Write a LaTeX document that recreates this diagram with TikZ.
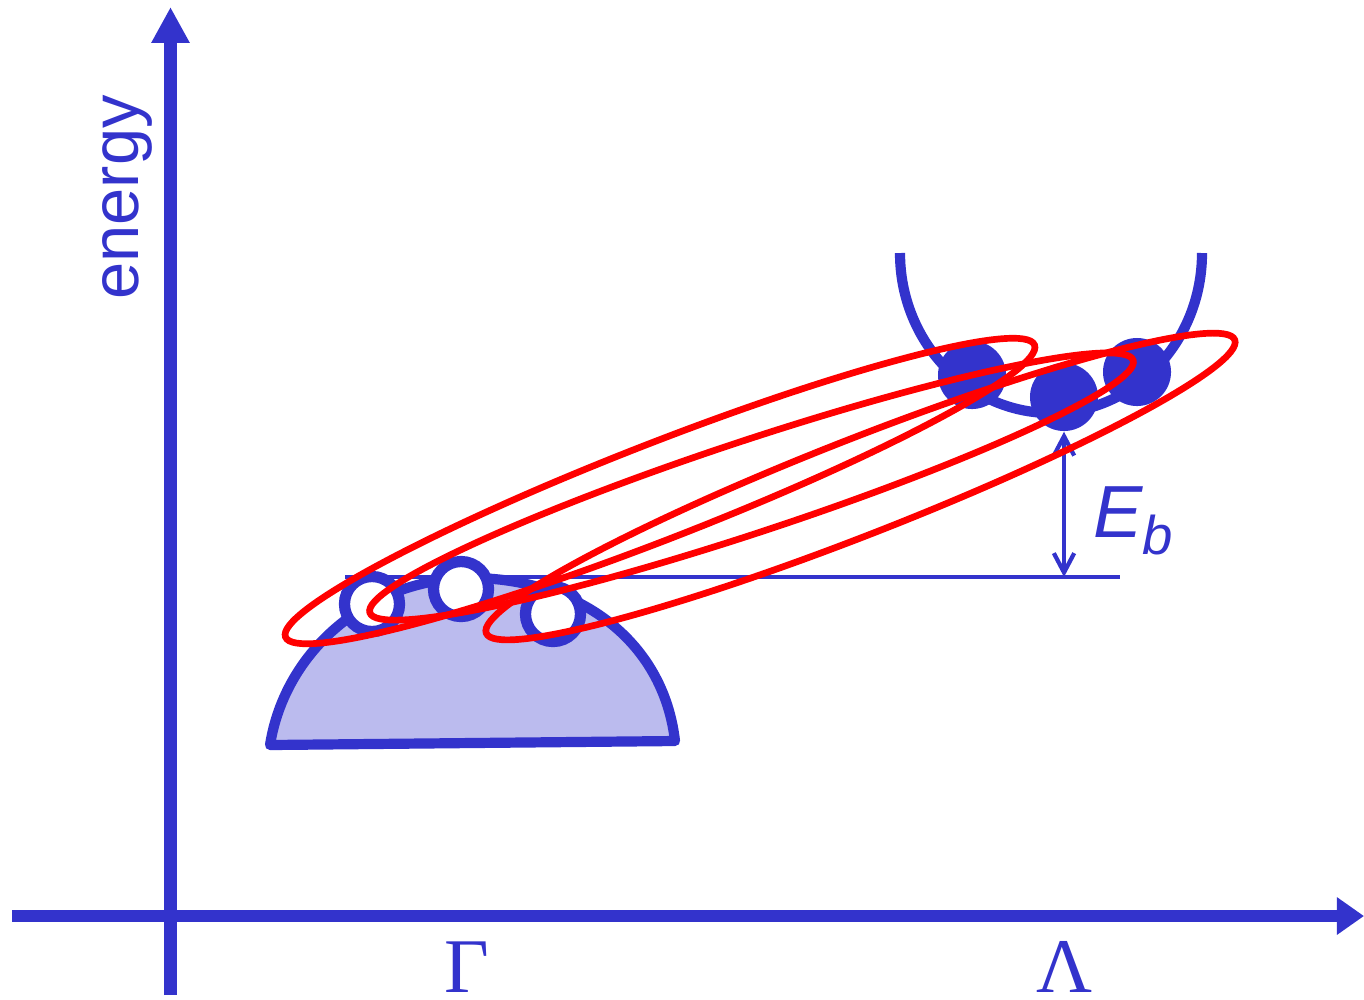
\documentclass[tikz,border=0pt]{standalone}
\usepackage{fontspec}
\setmainfont{Liberation Serif}
\newfontfamily\labelfont{Liberation Sans}
\usepackage{tikz}
\usetikzlibrary{
  arrows.meta,
  positioning
}
\definecolor{bandblue}{RGB}{51,51,204}
\definecolor{bandfill}{RGB}{187,187,238}
\definecolor{excitonred}{RGB}{255,0,0}
\tikzset{
  axisline/.style={draw=bandblue,line width=3.6pt},
  bandline/.style={draw=bandblue,line width=2.9pt},
  levelline/.style={draw=bandblue,line width=1.4pt},
  excitonline/.style={draw=excitonred,line width=1.9pt},
  holedot/.style={
    circle,
    draw=bandblue,
    fill=white,
    line width=3.2pt,
    minimum size=5.5mm,
    inner sep=0pt
  },
  electrondot/.style={
    circle,
    fill=bandblue,
    minimum size=6.8mm,
    inner sep=0pt
  },
  ebarrow/.style={
    {Straight Barb[length=5.5pt,width=5.8pt]}-{Straight Barb[length=5.5pt,width=5.8pt]},
    draw=bandblue,
    line width=1.2pt,
    line cap=round
  },
  axislabel/.style={text=bandblue,font=\fontsize{22}{24}\selectfont,inner sep=0pt},
}

\begin{document}
\begin{tikzpicture}[x=0.01cm,y=-0.01cm]
  \useasboundingbox (0,0) rectangle (1364,999);
  % axes
  \coordinate (ybottom) at (170.5,995);
  \coordinate (ytop) at (170.5,7);
  \coordinate (xleft) at (12,916);
  \coordinate (xright) at (1364,916);
  \draw[axisline,-{Triangle[length=10.2pt,width=10.2pt]}] (ybottom) -- (ytop);
  \draw[axisline,-{Triangle[length=7.7pt,width=10.2pt]}] (xleft) -- (xright);
  \node[rotate=90,text=bandblue,font=\labelfont\fontsize{19}{22}\selectfont,inner sep=0pt] (energy) at (127.5,197.5) {energy};
  \node[axislabel] (gamma) at (467,967) {Γ};
  \node[axislabel] (lambda) at (1064.5,967) {Λ};
  % valence band
  \draw[bandline,fill=bandfill,line join=round] (270,745) -- (675,741)
    .. controls (663,638) and (575,578) .. (471,578)
    .. controls (370,578) and (285,650) .. (270,745) -- cycle;
  % conduction band
  \draw[bandline] (900,253) arc[start angle=180,end angle=0,x radius=151,y radius=160];
  % exciton level
  \coordinate (levelleft) at (345,577);
  \coordinate (levelright) at (1120,577);
  \draw[levelline] (levelleft) -- (levelright);
  % holes and electrons
  \node[holedot] (h1) at (372,604) {};
  \node[holedot] (h2) at (461,589) {};
  \node[holedot] (h3) at (553,614) {};
  \node[electrondot] (e1) at (972,375) {};
  \node[electrondot] (e2) at (1064,397) {};
  \node[electrondot] (e3) at (1137,372) {};
  % binding energy
  \coordinate (ebfoot) at (1064,577);
  \draw[ebarrow] (e2.south) -- (ebfoot);
  \node[text=bandblue,font=\labelfont\itshape\fontsize{21}{24}\selectfont,anchor=base west,inner sep=0pt] (eb) at (1093,537) {E\raisebox{-5pt}{\fontsize{15.5}{18}\selectfont b}};
  % excitons
  \draw[excitonline,rotate around={21.3:(660,491)}] (660,491) ellipse[x radius=402,y radius=48];
  \draw[excitonline,rotate around={18.3:(751.5,486.5)}] (751.5,486.5) ellipse[x radius=402,y radius=46];
  \draw[excitonline,rotate around={21.4:(860.5,486.5)}] (860.5,486.5) ellipse[x radius=402,y radius=48];
\end{tikzpicture}
\end{document}
